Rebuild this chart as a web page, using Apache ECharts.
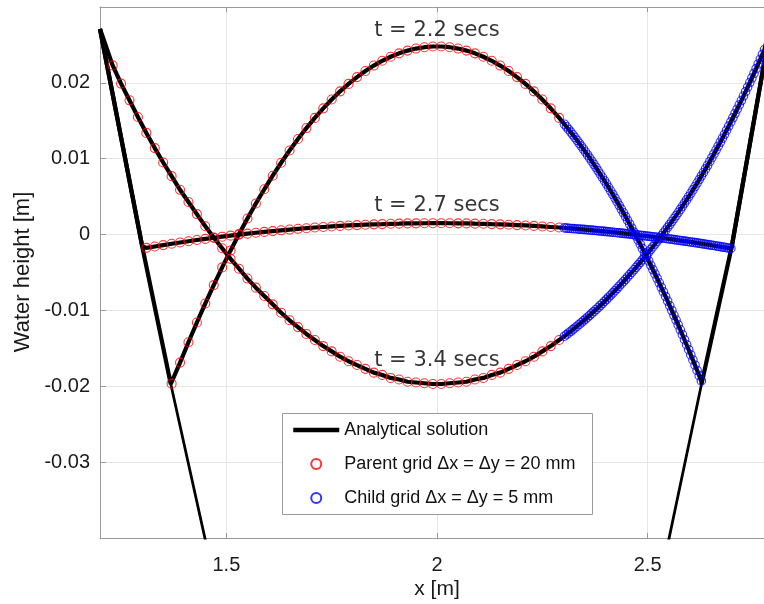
<!DOCTYPE html>
<html><head><meta charset="utf-8">
<script src="https://cdn.jsdelivr.net/npm/echarts@6/dist/echarts.min.js"></script>
<style>html,body{margin:0;padding:0;background:#fff}#c{width:764px;height:604px}</style>
</head><body><div id="c"></div>
<script>
// ---- tick labels ----
const xTicks = [1.5, 2, 2.5];
const yMin = -0.04, yMax = 0.03, yStep = 0.01;

// ---- parent grid (dx = 20 mm) cell centres ----
const parentX = [1.21,1.23,1.25,1.27,1.29,1.31,1.33,1.35,1.37,1.39,1.41,1.43,1.45,1.47,1.49,1.51,1.53,1.55,1.57,1.59,
1.61,1.63,1.65,1.67,1.69,1.71,1.73,1.75,1.77,1.79,1.81,1.83,1.85,1.87,1.89,1.91,1.93,1.95,1.97,1.99,
2.01,2.03,2.05,2.07,2.09,2.11,2.13,2.15,2.17,2.19,2.21,2.23,2.25,2.27,2.29];

const parent22 = [null,null,null,null,null,null,null,null,
-0.01965,-0.01688,-0.01419,-0.01159,-0.00908,-0.00666,-0.00433,-0.00209,0.00006,0.00212,0.00409,0.00597,0.00776,0.00947,0.01108,0.01260,
0.01404,0.01538,0.01664,0.01780,0.01888,0.01986,0.02076,0.02156,0.02228,0.02291,0.02344,0.02389,0.02425,0.02452,0.02470,0.02479,
0.02479,0.02470,0.02452,0.02425,0.02389,0.02344,0.02291,0.02228,0.02156,0.02076,0.01986,0.01888,0.01780,0.01664,0.01538];

const parent27 = [null,null,null,null,null,
-0.00175,-0.00157,-0.00139,-0.00121,-0.00104,-0.00088,-0.00072,-0.00057,-0.00042,-0.00028,-0.00014,-0.00001,0.00012,0.00024,0.00035,
0.00046,0.00056,0.00066,0.00076,0.00084,0.00093,0.00100,0.00107,0.00114,0.00120,0.00125,0.00130,0.00135,0.00138,0.00142,0.00144,0.00147,0.00148,0.00149,0.00150,
0.00150,0.00149,0.00148,0.00147,0.00144,0.00142,0.00138,0.00135,0.00130,0.00125,0.00120,0.00114,0.00107,0.00100,0.00093];

const parent34 = [null,
0.0223,0.0199,0.0177,0.0155,0.0134,0.0114,0.0095,0.0077,0.0059,0.0043,0.0027,0.0011,-0.0004,-0.0018,-0.0032,-0.0045,-0.0058,-0.0070,-0.0081,
-0.0092,-0.0103,-0.0113,-0.0122,-0.0131,-0.0139,-0.0147,-0.0154,-0.0161,-0.0167,-0.0172,-0.0177,-0.0182,-0.0185,-0.0189,-0.0191,-0.0194,-0.0195,-0.0196,-0.0197,
-0.0197,-0.0196,-0.0195,-0.0194,-0.0191,-0.0189,-0.0185,-0.0182,-0.0177,-0.0172,-0.0167,-0.0161,-0.0154,-0.0147,-0.0139];

// ---- child grid (dx = 5 mm) cell centres ----
const childX = [2.3025,2.3075,2.3125,2.3175,2.3225,2.3275,2.3325,2.3375,2.3425,2.3475,
2.3525,2.3575,2.3625,2.3675,2.3725,2.3775,2.3825,2.3875,2.3925,2.3975,
2.4025,2.4075,2.4125,2.4175,2.4225,2.4275,2.4325,2.4375,2.4425,2.4475,
2.4525,2.4575,2.4625,2.4675,2.4725,2.4775,2.4825,2.4875,2.4925,2.4975,
2.5025,2.5075,2.5125,2.5175,2.5225,2.5275,2.5325,2.5375,2.5425,2.5475,
2.5525,2.5575,2.5625,2.5675,2.5725,2.5775,2.5825,2.5875,2.5925,2.5975,
2.6025,2.6075,2.6125,2.6175,2.6225,2.6275,2.6325,2.6375,2.6425,2.6475,
2.6525,2.6575,2.6625,2.6675,2.6725,2.6775,2.6825,2.6875,2.6925,2.6975,
2.7025,2.7075,2.7125,2.7175,2.7225,2.7275,2.7325,2.7375,2.7425,2.7475,
2.7525,2.7575,2.7625,2.7675,2.7725,2.7775];

const child22 = [0.01455,0.01421,0.01386,0.01351,0.01315,0.01279,0.01242,0.01204,0.01166,0.01128,
0.01088,0.01049,0.01008,0.00967,0.00926,0.00884,0.00841,0.00798,0.00755,0.00710,
0.00666,0.00620,0.00574,0.00528,0.00481,0.00433,0.00385,0.00336,0.00287,0.00237,
0.00187,0.00136,0.00084,0.00032,-0.00020,-0.00074,-0.00127,-0.00182,-0.00237,-0.00292,
-0.00348,-0.00405,-0.00462,-0.00519,-0.00578,-0.00636,-0.00696,-0.00756,-0.00816,-0.00877,
-0.00939,-0.01001,-0.01064,-0.01127,-0.01191,-0.01255,-0.01320,-0.01386,-0.01452,-0.01518,
-0.01586,-0.01653,-0.01722,-0.01791,-0.01860,-0.01930];

const child27 = [0.00088,0.00085,0.00083,0.00081,0.00079,0.00077,0.00074,0.00072,0.00070,0.00068,
0.00065,0.00063,0.00060,0.00058,0.00055,0.00053,0.00050,0.00047,0.00045,0.00042,
0.00039,0.00037,0.00034,0.00031,0.00028,0.00025,0.00022,0.00019,0.00016,0.00013,
0.00010,0.00007,0.00004,0.00001,-0.00002,-0.00006,-0.00009,-0.00012,-0.00016,-0.00019,
-0.00022,-0.00026,-0.00029,-0.00033,-0.00036,-0.00040,-0.00044,-0.00047,-0.00051,-0.00055,
-0.00058,-0.00062,-0.00066,-0.00070,-0.00074,-0.00078,-0.00082,-0.00086,-0.00090,-0.00094,
-0.00098,-0.00102,-0.00106,-0.00110,-0.00115,-0.00119,-0.00123,-0.00128,-0.00132,-0.00136,
-0.00141,-0.00145,-0.00150,-0.00154,-0.00159,-0.00164,-0.00168,-0.00173,-0.00178,-0.00182];

const child34 = [-0.01340,-0.01319,-0.01297,-0.01275,-0.01253,-0.01231,-0.01208,-0.01185,-0.01162,-0.01138,
-0.01114,-0.01089,-0.01065,-0.01039,-0.01014,-0.00988,-0.00962,-0.00935,-0.00909,-0.00881,
-0.00854,-0.00826,-0.00798,-0.00769,-0.00740,-0.00711,-0.00681,-0.00651,-0.00621,-0.00590,
-0.00559,-0.00528,-0.00496,-0.00464,-0.00432,-0.00399,-0.00366,-0.00333,-0.00299,-0.00265,
-0.00230,-0.00195,-0.00160,-0.00125,-0.00089,-0.00053,-0.00016,0.00021,0.00058,0.00095,
0.00133,0.00172,0.00211,0.00250,0.00290,0.00332,0.00373,0.00415,0.00457,0.00501,
0.00544,0.00589,0.00633,0.00679,0.00725,0.00771,0.00818,0.00866,0.00914,0.00964,
0.01013,0.01063,0.01114,0.01165,0.01217,0.01270,0.01322,0.01376,0.01430,0.01485,
0.01540,0.01596,0.01653,0.01709,0.01767,0.01826,0.01884,0.01944,0.02004,0.02064,
0.02125,0.02187,0.02249,0.02312,0.02376,0.02439];

// ---- basin bed (dry parts of the analytical solution) ----
const bedLeftX  = [1.2, 1.30, 1.368, 1.449, 1.46];
const bedLeftY  = [0.0271, -0.0015, -0.0197, -0.040, -0.043];
const bedRightX = [2.54, 2.551, 2.628, 2.70, 2.8];
const bedRightY = [-0.043, -0.040, -0.0197, -0.0015, 0.030];

// ---- annotations ----
const annText = ['t = 2.2 secs', 't = 2.7 secs', 't = 3.4 secs'];
const annX = [2.0, 2.0, 2.0];
const annY = [0.0269, 0.0038, -0.0166];

const legendNames = ['Analytical solution', 'Parent grid \u0394x = \u0394y = 20 mm', 'Child grid \u0394x = \u0394y = 5 mm'];

// ---- build ----
function pairs(xs, ys) { const o = []; ys.forEach((y, i) => { if (y !== null) o.push([xs[i], y]); }); return o; }
const bedL = pairs(bedLeftX, bedLeftY), bedR = pairs(bedRightX, bedRightY);
function analytic(pts) {
  const x0 = pts[0][0], x1 = pts[pts.length - 1][0];
  return bedL.filter(p => p[0] < x0 - 1e-9).concat(pts, bedR.filter(p => p[0] > x1 + 1e-9));
}
const sets = [[parent22, child22], [parent27, child27], [parent34, child34]];
const series = [];
[bedL, bedR].forEach(d => series.push({
  type: 'line', name: 'bed', data: d, symbol: 'none', showSymbol: false, silent: true, z: 2,
  itemStyle: { color: 'rgba(0,0,0,0)' }, lineStyle: { color: '#000', width: 2.8 }
}));
sets.forEach(([p, c]) => {
  const pts = pairs(parentX, p).concat(pairs(childX, c));
  series.push({ type: 'line', name: legendNames[0], data: analytic(pts), symbol: 'none', showSymbol: false,
    silent: true, z: 2, itemStyle: { color: 'rgba(0,0,0,0)', borderWidth: 0 }, lineStyle: { color: '#000', width: 4.2 } });
});
sets.forEach(([p]) => series.push({ type: 'scatter', name: legendNames[1], data: pairs(parentX, p), symbol: 'circle',
  symbolSize: 9, silent: true, z: 3, itemStyle: { color: 'rgba(0,0,0,0)', borderColor: '#ff0000', borderWidth: 1.1 } }));
sets.forEach(([, c]) => series.push({ type: 'scatter', name: legendNames[2], data: pairs(childX, c), symbol: 'circle',
  symbolSize: 8.5, silent: true, z: 3, itemStyle: { color: 'rgba(0,0,0,0)', borderColor: '#0000ff', borderWidth: 1.1 } }));
series.push({ type: 'scatter', name: 'ann', symbolSize: 1, silent: true, z: 6,
  itemStyle: { color: 'rgba(0,0,0,0)' },
  data: annText.map((t, i) => ({ name: t, value: [annX[i], annY[i]] })),
  label: { show: true, position: 'inside', formatter: '{b}', fontFamily: 'DejaVu Sans', fontSize: 21, color: '#000' } });

const axisCol = '#999';
const chart = echarts.init(document.getElementById('c'), null, { renderer: 'canvas' });
chart.setOption({
  animation: false,
  backgroundColor: '#fff',
  grid: { left: 100, right: -10, top: 7, bottom: 66, containLabel: false, outerBoundsMode: 'none' },
  xAxis: [{
    type: 'value', min: 1.2, max: 2.8, position: 'bottom',
    axisLine: { show: true, onZero: false, lineStyle: { color: axisCol, width: 1 } },
    axisTick: { show: true, inside: true, length: 5, customValues: xTicks, lineStyle: { color: axisCol } },
    axisLabel: { customValues: xTicks, margin: 17, fontSize: 20, fontFamily: 'Liberation Sans', color: '#1a1a1a' },
    splitLine: { show: true, lineStyle: { color: '#e6e6e6', width: 1 } }
  }, {
    type: 'value', min: 1.2, max: 2.8, position: 'top',
    axisLine: { show: true, onZero: false, lineStyle: { color: axisCol, width: 1 } },
    axisTick: { show: true, inside: true, length: 5, customValues: xTicks, lineStyle: { color: axisCol } },
    axisLabel: { show: false }, splitLine: { show: false }
  }],
  yAxis: {
    type: 'value', min: yMin, max: yMax, interval: yStep,
    axisLine: { show: true, onZero: false, lineStyle: { color: axisCol, width: 1 } },
    axisTick: { show: true, inside: true, length: 6, lineStyle: { color: axisCol } },
    axisLabel: { margin: 10, fontSize: 20, fontFamily: 'Liberation Sans', color: '#1a1a1a',
      formatter: v => (v <= yMin + 1e-9 || v >= yMax - 1e-9) ? '' : String(+v.toFixed(3)) },
    splitLine: { show: true, lineStyle: { color: '#e6e6e6', width: 1 } }
  },
  legend: {
    data: [
      { name: legendNames[0], lineStyle: { width: 4.5, color: '#000' } },
      { name: legendNames[1] },
      { name: legendNames[2] }
    ],
    orient: 'vertical', left: 291, top: 421, padding: 0,
    itemWidth: 46, itemHeight: 10, itemGap: 16, selectedMode: false, z: 4,
    lineStyle: { width: 4.5 },
    textStyle: { fontSize: 18, lineHeight: 18, fontFamily: 'Liberation Sans', color: '#111' }
  },
  graphic: [
    { type: 'rect', z: 3, shape: { x: 282.5, y: 413.5, width: 310, height: 101 },
      style: { fill: '#fff', stroke: '#999', lineWidth: 1 } },
    { type: 'text', x: 23, y: 272, rotation: Math.PI / 2,
      style: { text: 'Water height [m]', fontSize: 22, fontFamily: 'Liberation Sans', fill: '#1a1a1a', align: 'center', verticalAlign: 'middle' } },
    { type: 'text', x: 437, y: 589,
      style: { text: 'x [m]', fontSize: 21, fontFamily: 'Liberation Sans', fill: '#1a1a1a', align: 'center', verticalAlign: 'middle' } }
  ],
  series: series
});
</script></body></html>
